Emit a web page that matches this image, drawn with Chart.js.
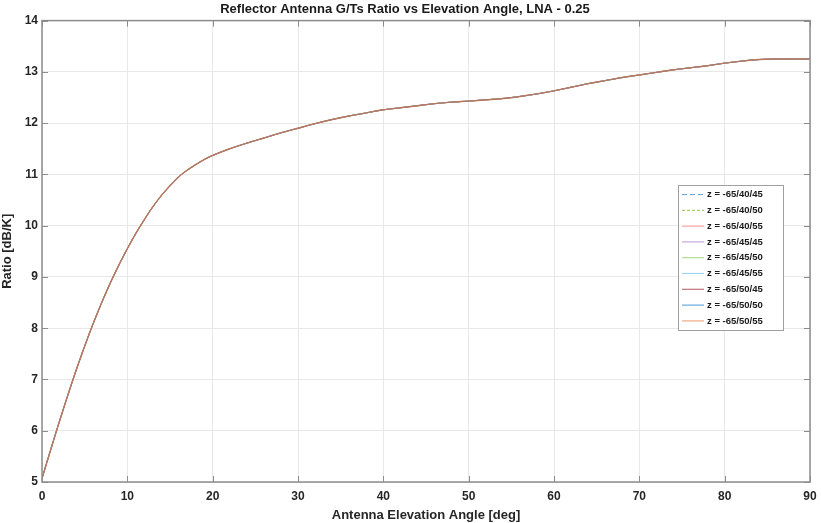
<!DOCTYPE html>
<html>
<head>
<meta charset="utf-8">
<script src="https://cdn.jsdelivr.net/npm/chart.js@4.4.1/dist/chart.umd.min.js"></script>
<style>
  html, body { margin: 0; padding: 0; background: #fff; }
  #wrap { width: 821px; height: 523px; }
</style>
</head>
<body>
<div id="wrap"><canvas id="graph"></canvas></div>
<script>
// Elevation angles [deg]
var angles = [0, 1, 2, 3, 4, 5, 6, 7, 8, 9, 10, 11, 12, 13, 14, 15, 16, 17, 18, 19, 20,
    22, 24, 26, 28, 30, 32, 34, 36, 38, 40, 42, 44, 46, 48, 50, 52, 54, 56, 58, 60,
    62, 64, 66, 68, 70, 72, 74, 76, 78, 80, 82, 84, 86, 88, 90];
// G/Ts ratio [dB/K] (all z cases overlap)
var ratio = [5.07, 5.62, 6.16, 6.68, 7.18, 7.65, 8.09, 8.5, 8.88, 9.23, 9.55, 9.85, 10.12, 10.37, 10.59, 10.78, 10.95, 11.08, 11.19, 11.29, 11.37,
    11.5, 11.61, 11.71, 11.81, 11.9, 11.99, 12.07, 12.14, 12.2, 12.26, 12.3, 12.34, 12.38, 12.41, 12.43, 12.455, 12.48, 12.52, 12.57, 12.63,
    12.7, 12.77, 12.83, 12.89, 12.94, 12.99, 13.04, 13.08, 13.12, 13.17, 13.21, 13.24, 13.25, 13.25, 13.25];
// Series names
var seriesNames = ['z = -65/40/45', 'z = -65/40/50', 'z = -65/40/55',
    'z = -65/45/45', 'z = -65/45/50', 'z = -65/45/55',
    'z = -65/50/45', 'z = -65/50/50', 'z = -65/50/55'];
var seriesColors = ['#5fa8e0', '#a8cf60', '#f4a0a0', '#c9a6dc', '#b5dc8c', '#9fd3f0', '#c0707a', '#6aa8dc', '#f0a882'];
var seriesDash = [[5, 3], [3, 2], [], [], [], [], [], [], []];
var xTicks = [0, 10, 20, 30, 40, 50, 60, 70, 80, 90];
var yTicks = [5, 6, 7, 8, 9, 10, 11, 12, 13, 14];

var FONT = '"Liberation Sans", Arial, sans-serif';
var n = seriesNames.length;
var datasets = [];
seriesNames.forEach(function (name, i) {
    var pts = angles.map(function (a, k) { return { x: a, y: ratio[k] }; });
    datasets.push({
        label: name,
        data: pts,
        borderColor: i === n - 1 ? '#b9785c' : seriesColors[i],
        borderWidth: i === n - 1 ? 1.4 : 1,
        borderDash: seriesDash[i],
        pointRadius: 0,
        tension: 0.3,
        fill: false,
        order: n - 1 - i,
    });
});

// Box, inward ticks and legend like the original figure
var boxPlugin = {
    id: 'boxPlugin',
    afterDraw: function (chart) {
        var ctx = chart.ctx;
        var a = chart.chartArea;
        var xs = chart.scales.x, ys = chart.scales.y;
        ctx.save();
        ctx.strokeStyle = '#8c8c8c';
        ctx.lineWidth = 1.5;
        ctx.strokeRect(a.left, a.top, a.right - a.left, a.bottom - a.top);
        ctx.lineWidth = 1;
        xTicks.forEach(function (t) {
            var px = Math.round(xs.getPixelForValue(t)) + 0.5;
            ctx.beginPath();
            ctx.moveTo(px, a.bottom); ctx.lineTo(px, a.bottom - 6);
            ctx.moveTo(px, a.top); ctx.lineTo(px, a.top + 6);
            ctx.stroke();
        });
        yTicks.forEach(function (t) {
            var py = Math.round(ys.getPixelForValue(t)) + 0.5;
            ctx.beginPath();
            ctx.moveTo(a.left, py); ctx.lineTo(a.left + 6, py);
            ctx.moveTo(a.right, py); ctx.lineTo(a.right - 6, py);
            ctx.stroke();
        });
        // Legend
        var lx = 678, ly = 185, lw = 105, lh = 145;
        ctx.fillStyle = '#fff';
        ctx.fillRect(lx, ly, lw, lh);
        ctx.strokeStyle = '#a0a0a0';
        ctx.strokeRect(lx + 0.5, ly + 0.5, lw, lh);
        ctx.font = 'bold 9.5px ' + FONT;
        ctx.textBaseline = 'middle';
        seriesNames.forEach(function (name, i) {
            var yy = ly + 9.5 + i * 15.8;
            ctx.strokeStyle = seriesColors[i];
            ctx.lineWidth = 1.2;
            ctx.setLineDash(seriesDash[i]);
            ctx.beginPath();
            ctx.moveTo(lx + 4, yy); ctx.lineTo(lx + 26, yy);
            ctx.stroke();
            ctx.setLineDash([]);
            ctx.fillStyle = '#1a1a1a';
            ctx.fillText(name, lx + 29, yy);
        });
        ctx.restore();
    }
};

var config = {
    type: 'line',
    data: { datasets: datasets },
    options: {
        responsive: true,
        maintainAspectRatio: false,
        animation: false,
        layout: { padding: { top: 0, right: 11, left: 0, bottom: 0 } },
        plugins: {
            legend: { display: false },
            tooltip: { enabled: false },
            title: {
                display: true,
                text: 'Reflector Antenna G/Ts Ratio vs Elevation Angle, LNA - 0.25',
                color: '#1a1a1a',
                font: { size: 13, weight: 'bold', family: FONT },
                padding: { top: 2, bottom: 3 },
            },
        },
        scales: {
            x: {
                type: 'linear',
                min: 0,
                max: 90,
                afterBuildTicks: function (s) { s.ticks = xTicks.map(function (v) { return { value: v }; }); },
                afterFit: function (s) { s.height = 41; s.paddingRight = 0; s.paddingLeft = 0; },
                grid: { color: '#e8e8e8', drawTicks: false },
                border: { display: false },
                ticks: {
                    color: '#262626',
                    padding: 7,
                    maxRotation: 0,
                    font: { size: 12, weight: 'bold', family: FONT },
                },
                title: {
                    display: true,
                    text: 'Antenna Elevation Angle [deg]',
                    color: '#262626',
                    padding: { top: 1, bottom: 0 },
                    font: { size: 13, weight: 'bold', family: FONT },
                },
            },
            y: {
                min: 5,
                max: 14,
                afterBuildTicks: function (s) { s.ticks = yTicks.map(function (v) { return { value: v }; }); },
                afterFit: function (s) { s.width = 42; s.paddingTop = 0; s.paddingBottom = 0; },
                grid: { color: '#e8e8e8', drawTicks: false },
                border: { display: false },
                ticks: {
                    color: '#262626',
                    padding: 4,
                    font: { size: 12, weight: 'bold', family: FONT },
                },
                title: {
                    display: true,
                    text: 'Ratio [dB/K]',
                    color: '#262626',
                    padding: { top: 0, bottom: 2 },
                    font: { size: 13, weight: 'bold', family: FONT },
                },
            },
        },
    },
    plugins: [boxPlugin],
};
new Chart(document.getElementById('graph'), config);
</script>
</body>
</html>
